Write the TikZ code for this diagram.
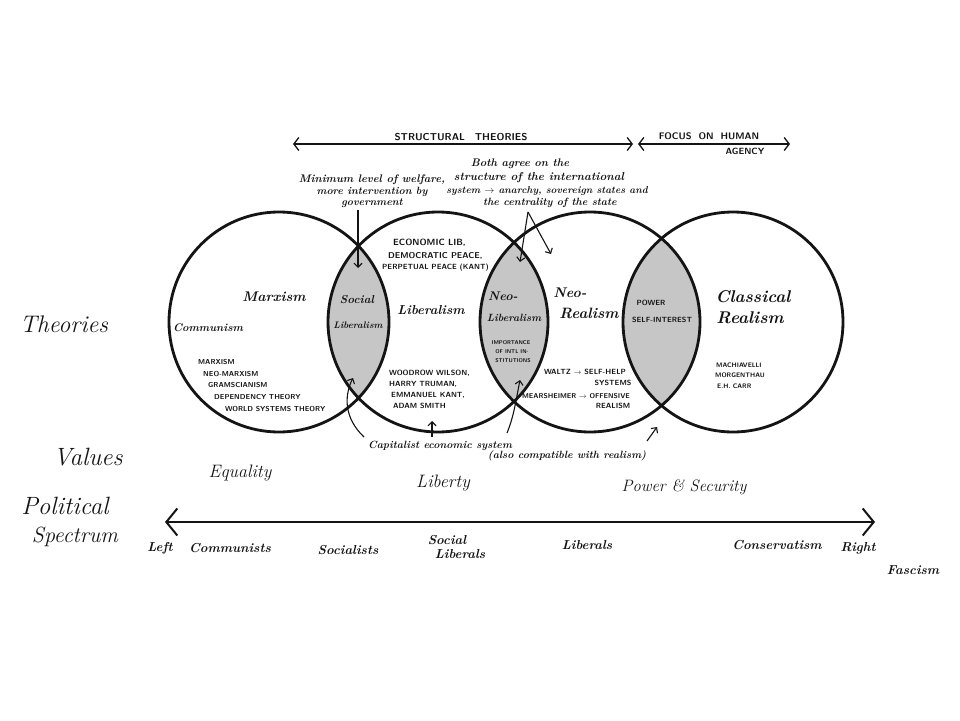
\documentclass[tikz,border=0pt]{standalone}
\usetikzlibrary{arrows.meta}
\definecolor{ink}{HTML}{141414}
\definecolor{lensgray}{HTML}{C6C6C6}
\begin{document}
\begin{tikzpicture}[x=1pt,y=-1pt,
  ring/.style={circle,draw=ink,line width=2.8pt,minimum size=220pt,inner sep=0pt,outer sep=0pt},
  hw/.style={inner sep=0pt,text=ink,font={\fontsize{#1}{#1}\selectfont\itshape}},
  hwb/.style={inner sep=0pt,text=ink,font={\fontsize{#1}{#1}\selectfont\bfseries\itshape}},
  caps/.style={inner sep=0pt,text=ink,font={\fontsize{#1}{#1}\selectfont\sffamily\bfseries}},
  arr/.style={draw=ink,line width=1.1pt,-{Straight Barb[length=4pt,width=8pt]}},
  toparr/.style={draw=ink,line width=1.3pt,{Straight Barb[length=5pt,width=13pt]}-{Straight Barb[length=5pt,width=13pt]}},
  spec/.style={draw=ink,line width=2pt,{Straight Barb[length=11pt,width=27pt]}-{Straight Barb[length=11pt,width=27pt]}}
]
\useasboundingbox (0,0) rectangle (960,720);
\fill[white] (0,0) rectangle (960,720);

% lens shading
\begin{scope}\clip (279,322) circle[radius=110pt]; \fill[lensgray] (438,322) circle[radius=110pt];\end{scope}
\begin{scope}\clip (438,322) circle[radius=110pt]; \fill[lensgray] (590,322) circle[radius=110pt];\end{scope}
\begin{scope}\clip (590,322) circle[radius=110pt]; \fill[lensgray] (733,322) circle[radius=110pt];\end{scope}

% circles
\node[ring] (c1) at (279,322) {};
\node[ring] (c2) at (438,322) {};
\node[ring] (c3) at (590,322) {};
\node[ring] (c4) at (733,322) {};

% top arrows
\coordinate (st1) at (293,144); \coordinate (st2) at (633,144);
\coordinate (fh1) at (638,144); \coordinate (fh2) at (790,144);
\draw[toparr] (st1) -- (st2);
\draw[toparr] (fh1) -- (fh2);
\node[caps=10] (tst) at (461,137) {STRUCTURAL\quad THEORIES};
\node[caps=9.5] (tfh) at (709,136) {FOCUS\ \ ON\ \ HUMAN};
\node[caps=9] (tag) at (745,151) {AGENCY};

% annotation 1
\node[hwb=11] (an1a) at (372,180) {Minimum level of welfare,};
\node[hwb=10.5] (an1b) at (372,192) {more intervention by};
\node[hwb=10.5] (an1c) at (372,203) {government};
\coordinate (a1s) at (358,210); \coordinate (a1e) at (358,268);
\draw[arr] (a1s) -- (a1e);

% annotation 2
\node[hwb=11] (an2a) at (520,164) {Both agree on the};
\node[hwb=11.5] (an2b) at (539,178) {structure of the international};
\node[hwb=10] (an2c) at (547,191) {system $\rightarrow$ anarchy, sovereign states and};
\node[hwb=10.5] (an2d) at (550,203) {the centrality of the state};
\coordinate (a2s) at (528,212); \coordinate (a2e) at (520,262); \coordinate (a2f) at (551,254);
\draw[arr] (a2s) -- (a2e);
\draw[arr] (a2s) -- (a2f);

% circle 1
\node[hwb=14] (tmarx) at (274,297) {Marxism};
\node[hwb=11] (tcomm) at (208,328) {Communism};
\node[caps=7.2,anchor=west] (l1a) at (198,362) {MARXISM};
\node[caps=7.2,anchor=west] (l1b) at (203,374) {NEO-MARXISM};
\node[caps=7.2,anchor=west] (l1c) at (208,385) {GRAMSCIANISM};
\node[caps=7.2,anchor=west] (l1d) at (214,397) {DEPENDENCY THEORY};
\node[caps=7.2,anchor=west] (l1e) at (225,409) {WORLD SYSTEMS THEORY};

% lens 1
\node[hwb=11.5] (tsoc) at (357,300) {Social};
\node[hwb=9.5] (tsl) at (358,325) {Liberalism};

% circle 2
\node[caps=9,anchor=west] (l2a) at (393,243) {ECONOMIC LIB,};
\node[caps=8.5,anchor=west] (l2b) at (388,256) {DEMOCRATIC PEACE,};
\node[caps=7.5,anchor=west] (l2c) at (382,268) {PERPETUAL PEACE (KANT)};
\node[hwb=13] (tlib) at (431,310) {Liberalism};
\node[caps=7.5,anchor=west] (l2d) at (389,373) {WOODROW WILSON,};
\node[caps=7.5,anchor=west] (l2e) at (389,384) {HARRY TRUMAN,};
\node[caps=7.5,anchor=west] (l2f) at (391,395) {EMMANUEL KANT,};
\node[caps=7.5,anchor=west] (l2g) at (393,406) {ADAM SMITH};

% lens 2
\node[hwb=12.5] (tneo1) at (503,296) {Neo-};
\node[hwb=10.5] (tnl) at (514,318) {Liberalism};
\node[caps=5.5] (l3a) at (511,343) {IMPORTANCE};
\node[caps=5.5] (l3b) at (512,352) {OF INTL IN-};
\node[caps=5.5] (l3c) at (513,361) {STITUTIONS};

% circle 3
\node[hwb=14] (tneo2) at (570,293) {Neo-};
\node[hwb=15] (tnr) at (589,313) {Realism};
\node[caps=7.5] (l4a) at (585,372) {WALTZ $\rightarrow$ SELF-HELP};
\node[caps=7.5] (l4b) at (613,383) {SYSTEMS};
\node[caps=7] (l4c) at (576,396) {MEARSHEIMER $\rightarrow$ OFFENSIVE};
\node[caps=7.5] (l4d) at (613,406) {REALISM};

% lens 3
\node[caps=7.5] (tpow) at (651,303) {POWER};
\node[caps=7.5] (tsi) at (662,320) {SELF-INTEREST};

% circle 4
\node[hwb=17] (tcl) at (753,297) {Classical};
\node[hwb=17] (tcr) at (750,318) {Realism};
\node[caps=6.5,anchor=west] (l5a) at (716,365) {MACHIAVELLI};
\node[caps=6.5,anchor=west] (l5b) at (715,375) {MORGENTHAU};
\node[caps=6.5,anchor=west] (l5c) at (717,386) {E.H.\ CARR};

% bottom annotation
\node[hwb=10.5] (cap1) at (440,446) {Capitalist economic system};
\node[hwb=10.5] (cap2) at (567,456) {(also compatible with realism)};
\coordinate (b1s) at (364,437); \coordinate (b1e) at (353,378);
\coordinate (b2s) at (432,437); \coordinate (b2e) at (432,421);
\coordinate (b3s) at (507,433); \coordinate (b3e) at (520,380);
\coordinate (b4s) at (647,441); \coordinate (b4e) at (657,427);
\draw[arr] (b1s) .. controls (344,418) and (344,396) .. (b1e);
\draw[arr] (b2s) -- (b2e);
\draw[arr] (b3s) .. controls (514,416) and (516,400) .. (b3e);
\draw[arr] (b4s) -- (b4e);

% left labels
\node[hw=24] (ltheo) at (64,324) {Theories};
\node[hw=25] (lval) at (88,457) {Values};
\node[hw=25] (lpol) at (65,506) {Political};
\node[hw=22] (lspe) at (75,537) {Spectrum};

% values
\node[hw=18] (veq) at (240,473) {Equality};
\node[hw=18] (vlib) at (443,483) {Liberty};
\node[hw=16.5] (vps) at (684,487) {Power \& Security};

% spectrum
\coordinate (sp1) at (165,522); \coordinate (sp2) at (875,522);
\draw[spec] (sp1) -- (sp2);
\node[hwb=13] (sleft) at (160,548) {Left};
\node[hwb=13] (scom) at (230,548) {Communists};
\node[hwb=13] (ssoc) at (348,550) {Socialists};
\node[hwb=13] (ssl1) at (447,540) {Social};
\node[hwb=13] (ssl2) at (460,554) {Liberals};
\node[hwb=13] (slib) at (587,545) {Liberals};
\node[hwb=13] (scon) at (777,545) {Conservatism};
\node[hwb=13] (sright) at (858,548) {Right};
\node[hwb=13] (sfas) at (913,570) {Fascism};
\end{tikzpicture}
\end{document}
